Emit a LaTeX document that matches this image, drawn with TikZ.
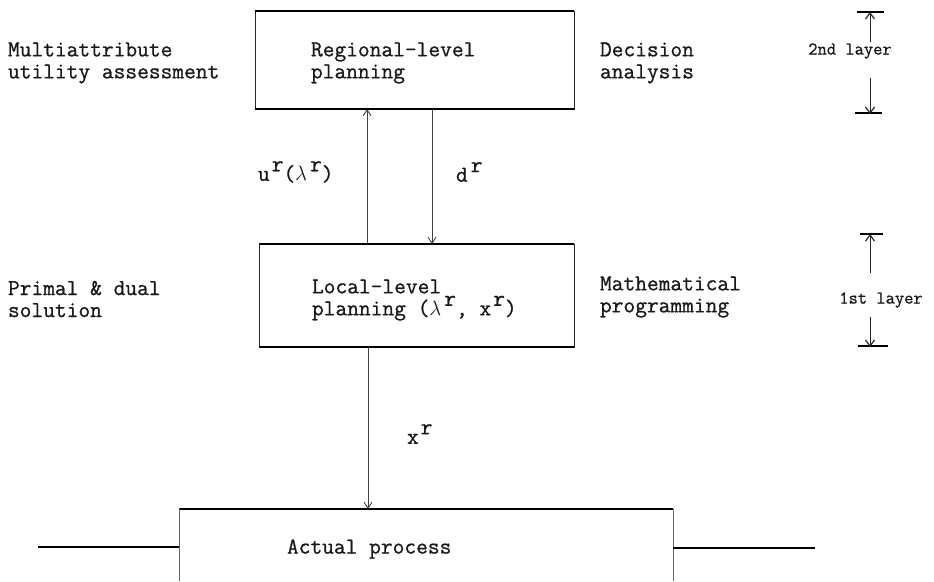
\documentclass[tikz,border=0pt]{standalone}
\usepackage{fontspec}
\usetikzlibrary{arrows.meta}
% typewriter face used for every label
\newfontfamily\tw{Latin Modern Mono}[FakeBold=0.9]
% raised superscript r in typewriter style
\newcommand\rsup{\raisebox{0.42em}{r}}
\newcommand\lam{$\lambda$}

\begin{document}
\begin{tikzpicture}[x=1pt,y=-1pt,
  every node/.style={inner sep=0pt, outer sep=0pt},
  txt/.style={font=\tw\fontsize{22.8}{22}\selectfont, anchor=west, align=left, text=black!90},
  small/.style={font=\tw\fontsize{18}{18}\selectfont, text=black!90},
  boxnode/.style={draw=black!85, line width=0.9pt, rectangle},
  heavy/.style={line width=2.4pt, black},
  flow/.style={line width=0.8pt, black!75, -{Straight Barb[length=6pt,width=8pt,line width=0.9pt]}},
  plain/.style={line width=0.8pt, black!75},
  tip/.style={line width=0.8pt, black!85, -{Straight Barb[length=6pt,width=9pt,line width=1.2pt]}}
]
\useasboundingbox (0,0) rectangle (934,581);

% ---- boxes ----
\node[boxnode, minimum width=319pt, minimum height=98pt] (reg) at (414.5,60) {};
\node[boxnode, minimum width=315pt, minimum height=103pt] (loc) at (416.5,295.5) {};
\node[minimum width=494pt, minimum height=72pt] (act) at (426,545) {};

% heavy top and bottom edges
\draw[heavy] (reg.north west) -- (reg.north east);
\draw[heavy] (reg.south west) -- (reg.south east);
\draw[heavy] (loc.north west) -- (loc.north east);
\draw[heavy] (loc.south west) -- (loc.south east);
\draw[heavy] (act.north west) -- (act.north east);
\draw[plain, black!60] (act.north west) -- (act.south west);
\draw[plain, black!60] (act.north east) -- (act.south east);

% process input and output lines
\coordinate (inL) at (38,547);
\coordinate (outR) at (815,548);
\draw[line width=1.8pt] (inL) -- (inL -| act.west);
\draw[line width=1.8pt] (outR -| act.east) -- (outR);

% ---- box texts ----
\node[txt] (regt) at (311,63) {Regional-level\\planning};
\node[txt] (loct) at (312,300) {Local-level\\planning (\lam\kern3pt\rsup, x\kern2pt\rsup)};
\node[txt] (actt) at (287,549) {Actual process};

% ---- side labels ----
\node[txt] (mau) at (8,63) {Multiattribute\\utility assessment};
\node[txt] (dec) at (600,63) {Decision\\analysis};
\node[txt] (pd) at (8,299) {Primal \& dual\\solution};
\node[txt] (mp) at (600,297) {Mathematical\\programming};

% ---- connectors ----
\coordinate (ux) at (367,0);
\coordinate (dx) at (432,0);
\coordinate (xx) at (368,0);
\draw[flow] (loc.north -| ux) -- (reg.south -| ux);
\draw[flow] (reg.south -| dx) -- (loc.north -| dx);
\draw[flow] (loc.south -| xx) -- (act.north -| xx);

\node[txt] (ul) at (258,172) {u\kern2pt\rsup(\lam\kern3pt\rsup)};
\node[txt] (dl) at (456,172) {d\kern3pt\rsup};
\node[txt] (xl) at (407,434) {x\kern2pt\rsup};

% ---- layer markers ----
\node[small] (l2) at (850,51) {2nd layer};
\node[small] (l1) at (881,300) {1st layer};

\coordinate (l2top) at (870,12);
\coordinate (l2a) at (870,42);
\coordinate (l2b) at (870,78);
\coordinate (l2bot) at (870,113);
\draw[heavy, line width=2pt] (857,12) -- (884,12);
\draw[heavy, line width=2pt] (855,113) -- (882,113);
\draw[tip] (l2a) -- (l2top);
\draw[tip] (l2b) -- ([yshift=-1pt]l2bot);

\coordinate (l1top) at (870,234);
\coordinate (l1a) at (870,273);
\coordinate (l1b) at (870,317);
\coordinate (l1bot) at (870,346);
\draw[heavy, line width=2pt] (860,234) -- (883,234);
\draw[heavy, line width=2pt] (858,346) -- (888,346);
\draw[tip] (l1a) -- (l1top);
\draw[tip] (l1b) -- ([yshift=-1pt]l1bot);
\end{tikzpicture}
\end{document}
